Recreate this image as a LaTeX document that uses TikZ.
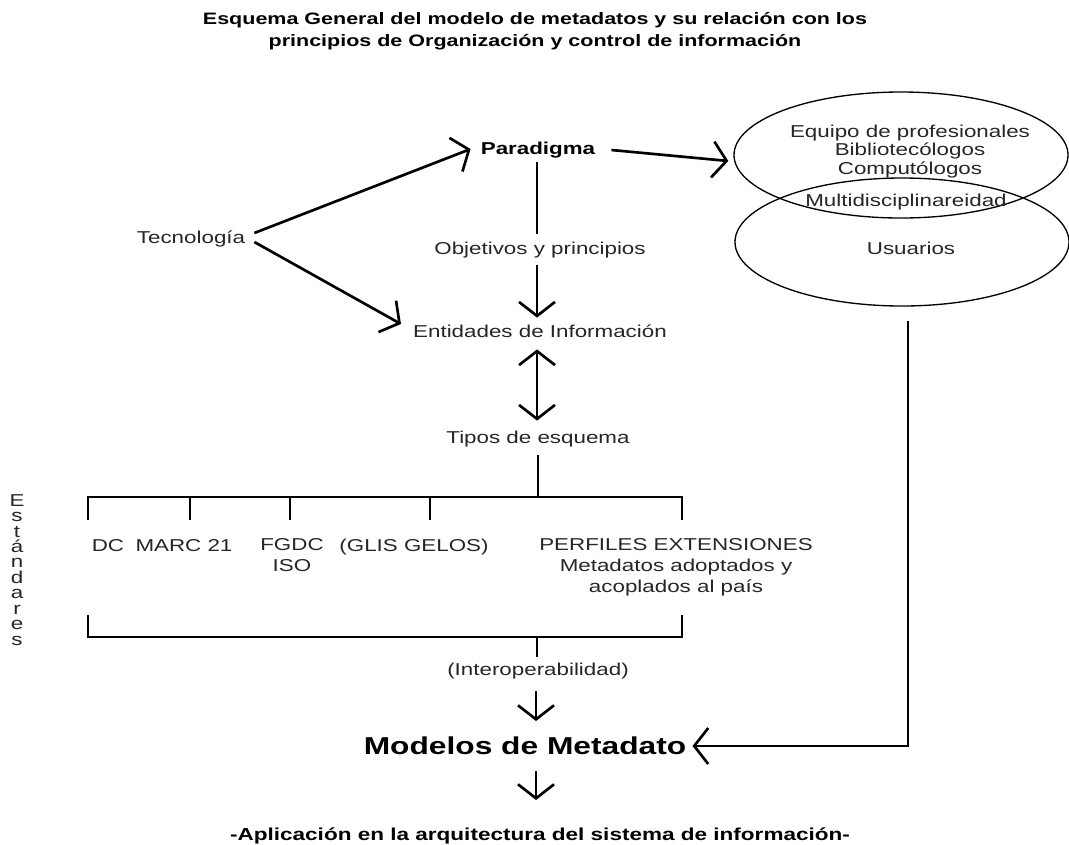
\documentclass[tikz,border=0pt]{standalone}
\usepackage{fontspec}
\setmainfont{Liberation Sans}[FakeStretch=1.3]
\usetikzlibrary{arrows.meta,shapes.geometric,calc}

\tikzset{
  lbl/.style={font=\fontsize{12.9pt}{15.5pt}\selectfont, text=black!85, inner sep=0pt,
              text height=9.2pt, text depth=0pt},
  lblbold/.style={lbl, font=\fontsize{12.9pt}{15.5pt}\selectfont\bfseries, text=black},
  block/.style={font=\fontsize{12.9pt}{15.5pt}\selectfont, text=black!85, inner sep=0pt,
                align=center, anchor=north},
  headline/.style={font=\fontsize{12.4pt}{16.5pt}\selectfont\bfseries, inner sep=0pt,
                   align=center, anchor=north},
  bigbold/.style={font=\fontsize{18.3pt}{22pt}\selectfont\bfseries, inner sep=0pt,
                  text height=13.1pt, text depth=0pt},
  ring/.style={ellipse, draw, line width=1pt, inner sep=0pt},
  conn/.style={line width=2pt},
  arr/.style={conn, -{Straight Barb[length=10.5pt,width=27pt]}},
  darr/.style={conn, {Straight Barb[length=10.5pt,width=27pt]}-{Straight Barb[length=10.5pt,width=27pt]}},
  brace/.style={line width=2.2pt}
}

\begin{document}
\begin{tikzpicture}[x=0.75pt,y=-0.75pt]
\useasboundingbox (0,0) rectangle (1069,844);
\fill[white] (0,0) rectangle (1069,844);

% heading
\node[headline] (title) at (535,12)
  {Esquema General del modelo de metadatos y su relación con los\\
   principios de Organización y control de información};

% upper part of the chain
\node[lblbold] (par) at (538,148) {Paradigma};
\node[lbl] (tec) at (191,237) {Tecnología};
\node[lbl] (obj) at (540,248) {Objetivos y principios};
\node[lbl] (ent) at (540,331) {Entidades de Información};
\node[lbl] (tipos) at (538,437) {Tipos de esquema};

% overlapping groups
\node[ring, minimum width=250.5pt, minimum height=94.5pt] (eq) at (901,155) {};
\node[ring, minimum width=250.5pt, minimum height=96pt] (lo) at (902,242) {};
\node[block, font=\fontsize{12.9pt}{13.9pt}\selectfont] (team) at (910,124.7)
  {Equipo de profesionales\\Bibliotecólogos\\Computólogos};
\node[lbl] (multi) at (906,200) {Multidisciplinareidad};
\node[lbl] (us) at (911,248) {Usuarios};

% standards
\node[block, font=\fontsize{12.9pt}{11.6pt}\selectfont] (std) at (17,494)
  {E\\s\\t\\á\\n\\d\\a\\r\\e\\s};
\node[lbl] (dc) at (108,545) {DC};
\node[lbl] (marc) at (184,545) {MARC 21};
\node[block, font=\fontsize{12.9pt}{15.75pt}\selectfont] (fgdc) at (292,538.7) {FGDC\\ISO};
\node[lbl] (glis) at (414,545) {(GLIS GELOS)};
\node[block, font=\fontsize{12.9pt}{15.75pt}\selectfont] (perf) at (676,538.7)
  {PERFILES EXTENSIONES\\Metadatos adoptados y\\acoplados al país};

\node[lbl] (interop) at (538,669) {(Interoperabilidad)};
\node[bigbold] (modelos) at (525,746) {Modelos de Metadato};
\node[headline, font=\fontsize{13pt}{16.5pt}\selectfont\bfseries] (apl) at (540,827)
  {-Aplicación en la arquitectura del sistema de información-};

% tick positions of the two brackets
\coordinate (bar) at (538,497);
\coordinate (t1) at (88,520);
\coordinate (t2) at (190,520);
\coordinate (t3) at (290,520);
\coordinate (t4) at (430,520);
\coordinate (t5) at (682,520);
\coordinate (ubar) at (537,637);
\coordinate (u1) at (88,615);
\coordinate (u5) at (682,615);

% connectors
\draw[arr] ($(tec.east)+(9,-4)$) -- ($(par.west)+(-10,1)$);
\draw[arr] ($(tec.east)+(9,5)$) -- ($(ent.west)+(-12,-7)$);
\draw[arr] ($(par.east)+(16,2)$) -- ($(eq.west)+(-5,6)$);
\draw[conn] ($(par.south)+(-1,8)$) -- ($(obj.north)+(-3,-8)$);
\draw[arr] ($(obj.south)+(-3,11)$) -- ($(ent.north)+(-3,-7)$);
\draw[darr] ($(ent.south)+(-3,12)$) -- ($(tipos.north)+(-1,-10)$);

\draw[brace] ($(tipos.south)+(0,12)$) -- (bar);
\draw[brace] (t1) |- (bar) -| (t5);
\draw[brace] (t2 |- bar) -- (t2);
\draw[brace] (t3 |- bar) -- (t3);
\draw[brace] (t4 |- bar) -- (t4);

\draw[brace] (u1) |- (ubar) -| (u5);
\draw[brace] (ubar) -- ($(interop.north)+(-1,-6)$);

\draw[arr] ($(interop.south)+(-2,16)$) -- ($(modelos.north)+(11,-16)$);
\draw[arr] ($(modelos.south)+(11,16)$) -- ($(apl.north)+(-4,-27)$);
\draw[arr] ($(lo.south)+(6,14)$) |- ($(modelos.east)+(6,0)$);
\end{tikzpicture}
\end{document}
